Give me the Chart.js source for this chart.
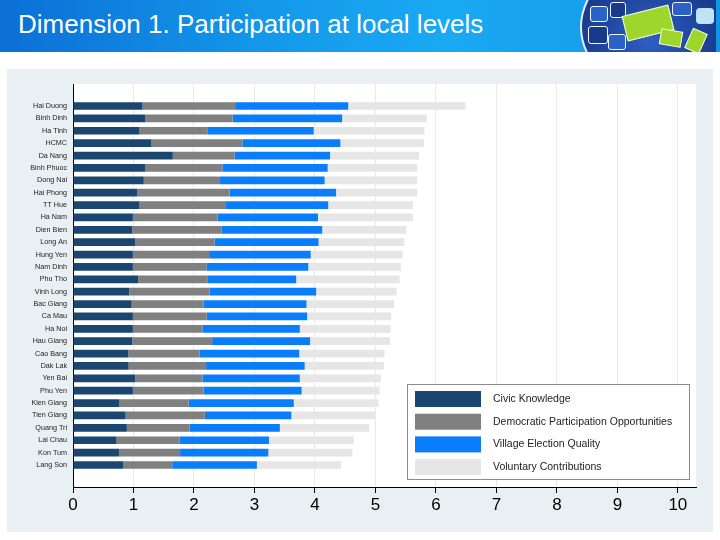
<!DOCTYPE html>
<html>
<head>
<meta charset="utf-8">
<script src="https://cdn.jsdelivr.net/npm/chart.js@4.4.1/dist/chart.umd.min.js"></script>
<style>
  html, body { margin: 0; padding: 0; width: 720px; height: 540px; background: #fff; overflow: hidden; font-family: "Liberation Sans", Arial, sans-serif; }
  #header { position: absolute; left: 0; top: 0; width: 720px; height: 52px; overflow: hidden;
    background: linear-gradient(90deg, #0b6fd6 0%, #1499ea 38%, #1aa9f3 62%, #1196e6 100%); }
  #header h1 { position: absolute; left: 18px; top: 9px; margin: 0; font-size: 26px; font-weight: normal; color: #fff; white-space: nowrap; }
  #puzzle { position: absolute; left: 578px; top: 0; width: 138px; height: 52px; overflow: hidden; }
  #puzzle div { position: absolute; }
  .globe { left: 2px; top: -40px; width: 150px; height: 130px; border-radius: 50%;
    background: radial-gradient(circle at 45% 60%, #2d5fc4 0%, #1b3f93 55%, #0f2a6a 100%); border: 2px solid #e4edf9; }
  .pc { border: 1.5px solid #f2f6fc; border-radius: 3px; }
  .navy { background: #173a8a; }
  .mid { background: #2b62c8; }
  .lime { background: #9fd62c; border: 1px solid #f4f9e8; }
  .pale { background: #bfe3f7; }
</style>
</head>
<body>
<div id="header">
  <h1>Dimension 1. Participation at local levels</h1>
  <div id="puzzle">
    <div class="globe"></div>
    <div class="pc mid" style="left:12px; top:6px; width:16px; height:14px;"></div>
    <div class="pc navy" style="left:10px; top:26px; width:18px; height:16px;"></div>
    <div class="pc mid" style="left:30px; top:34px; width:16px; height:14px;"></div>
    <div class="pc navy" style="left:32px; top:2px; width:14px; height:14px;"></div>
    <div class="pc mid" style="left:94px; top:2px; width:18px; height:12px;"></div>
    <div class="lime" style="left:46px; top:10px; width:46px; height:24px; transform: rotate(-14deg);"></div>
    <div class="lime" style="left:82px; top:30px; width:20px; height:14px; transform: rotate(10deg);"></div>
    <div class="lime" style="left:110px; top:30px; width:14px; height:20px; transform: rotate(24deg);"></div>
    <div class="pale" style="left:118px; top:8px; width:18px; height:16px; border-radius: 4px;"></div>
  </div>
</div>
<div id="panel" style="position:absolute; left:7px; top:69px; width:706px; height:463px; background:#e8f0f3;"><canvas id="participationChart"></canvas></div>
<script>
const provinces = ["Hai Duong", "Binh Dinh", "Ha Tinh", "HCMC", "Da Nang", "Binh Phuoc", "Dong Nai", "Hai Phong", "TT Hue", "Ha Nam",
  "Dien Bien", "Long An", "Hung Yen", "Nam Dinh", "Phu Tho", "Vinh Long", "Bac Giang", "Ca Mau", "Ha Noi", "Hau Giang",
  "Cao Bang", "Dak Lak", "Yen Bai", "Phu Yen", "Kien Giang", "Tien Giang", "Quang Tri", "Lai Chau", "Kon Tum", "Lang Son"];

const civicKnowledge = [1.15, 1.19, 1.10, 1.29, 1.65, 1.19, 1.17, 1.06, 1.10, 0.99,
  0.98, 1.03, 0.99, 0.99, 1.08, 0.93, 0.97, 0.99, 0.99, 0.98,
  0.91, 0.92, 1.03, 0.99, 0.76, 0.87, 0.89, 0.72, 0.76, 0.83];
const democraticParticipation = [1.53, 1.45, 1.13, 1.51, 1.02, 1.28, 1.26, 1.53, 1.43, 1.40,
  1.48, 1.31, 1.26, 1.22, 1.15, 1.33, 1.19, 1.22, 1.15, 1.32,
  1.18, 1.28, 1.11, 1.17, 1.15, 1.31, 1.04, 1.04, 1.01, 0.81];
const villageElection = [1.87, 1.81, 1.75, 1.62, 1.58, 1.74, 1.73, 1.76, 1.69, 1.66,
  1.66, 1.72, 1.68, 1.68, 1.46, 1.76, 1.70, 1.66, 1.61, 1.62,
  1.65, 1.63, 1.61, 1.62, 1.74, 1.43, 1.49, 1.48, 1.46, 1.40];
const voluntaryContributions = [1.94, 1.40, 1.83, 1.38, 1.47, 1.48, 1.53, 1.34, 1.40, 1.57,
  1.39, 1.42, 1.52, 1.53, 1.71, 1.33, 1.45, 1.39, 1.50, 1.32,
  1.41, 1.31, 1.34, 1.29, 1.40, 1.39, 1.48, 1.40, 1.39, 1.39];

const seriesNames = ["Civic Knowledge", "Democratic Participation Opportunities", "Village Election Quality", "Voluntary Contributions"];
const xTicks = [0, 1, 2, 3, 4, 5, 6, 7, 8, 9, 10];

const seriesColors = ["#1b4670", "#808080", "#0a7dfb", "#e6e6e6"];
const fontFamily = '"Liberation Sans", Arial, sans-serif';

// white plot region behind the bars
const plotBackground = {
  id: "plotBackground",
  beforeDraw(chart) {
    const { ctx, chartArea } = chart;
    ctx.save();
    ctx.fillStyle = "#ffffff";
    ctx.fillRect(chartArea.left, chartArea.top, chartArea.right - chartArea.left, chartArea.bottom - chartArea.top);
    ctx.restore();
  },
};

// boxed legend in the lower right of the plot
const boxLegend = {
  id: "boxLegend",
  afterDraw(chart) {
    const { ctx, chartArea } = chart;
    const x = chartArea.left + 334;
    const y = chartArea.top + 300;
    ctx.save();
    ctx.fillStyle = "#ffffff";
    ctx.fillRect(x, y, 282, 95);
    ctx.strokeStyle = "#8a8a8a";
    ctx.lineWidth = 1;
    ctx.strokeRect(x + 0.5, y + 0.5, 282, 95);
    chart.data.datasets.forEach((ds, i) => {
      const cy = y + 15 + i * 22.7;
      ctx.fillStyle = ds.backgroundColor;
      ctx.fillRect(x + 8, cy - 8, 66, 16);
      ctx.fillStyle = "#222";
      ctx.font = "10.5px " + fontFamily;
      ctx.textBaseline = "middle";
      ctx.fillText(ds.label, x + 86, cy);
    });
    ctx.restore();
  },
};

const ctx = document.getElementById("participationChart").getContext("2d");

const datasets = [civicKnowledge, democraticParticipation, villageElection, voluntaryContributions].map((values, k) => ({
  label: seriesNames[k],
  data: values.map((v, i) => ({ x: v, y: i })),
  backgroundColor: seriesColors[k],
  borderWidth: 0,
  barPercentage: 0.62,
  categoryPercentage: 1,
}));

const chart = new Chart(ctx, {
  type: "bar",
  data: { datasets },
  options: {
    indexAxis: "y",
    responsive: true,
    maintainAspectRatio: false,
    animation: false,
    layout: { padding: { top: 15, right: 17, bottom: 15, left: 0 } },
    plugins: {
      legend: { display: false },
      tooltip: { enabled: false },
    },
    scales: {
      x: {
        type: "linear",
        stacked: true,
        min: 0,
        max: 10.3,
        border: { color: "#000", width: 1 },
        grid: { color: "#e9e9e9", tickColor: "#000", tickLength: 6 },
        afterBuildTicks: (scale) => {
          scale.ticks = xTicks.map((v) => ({ value: v }));
        },
        ticks: {
          color: "#000",
          padding: 2,
          maxRotation: 0,
          font: { size: 17, family: fontFamily },
        },
        afterFit: (scale) => {
          scale.height = 30;
        },
      },
      y: {
        type: "linear",
        stacked: true,
        reverse: true,
        offset: false,
        min: -1.78,
        max: 30.78,
        border: { color: "#000", width: 1 },
        grid: { display: false, drawTicks: false, offset: false },
        afterBuildTicks: (scale) => {
          scale.ticks = provinces.map((p, i) => ({ value: i }));
        },
        ticks: {
          autoSkip: false,
          padding: 6,
          color: "#222",
          font: { size: 7.2, family: fontFamily },
          callback: (v) => provinces[v] ?? "",
        },
        afterFit: (scale) => {
          scale.width = 66;
        },
      },
    },
  },
  plugins: [plotBackground, boxLegend],
});
</script>
</body>
</html>
